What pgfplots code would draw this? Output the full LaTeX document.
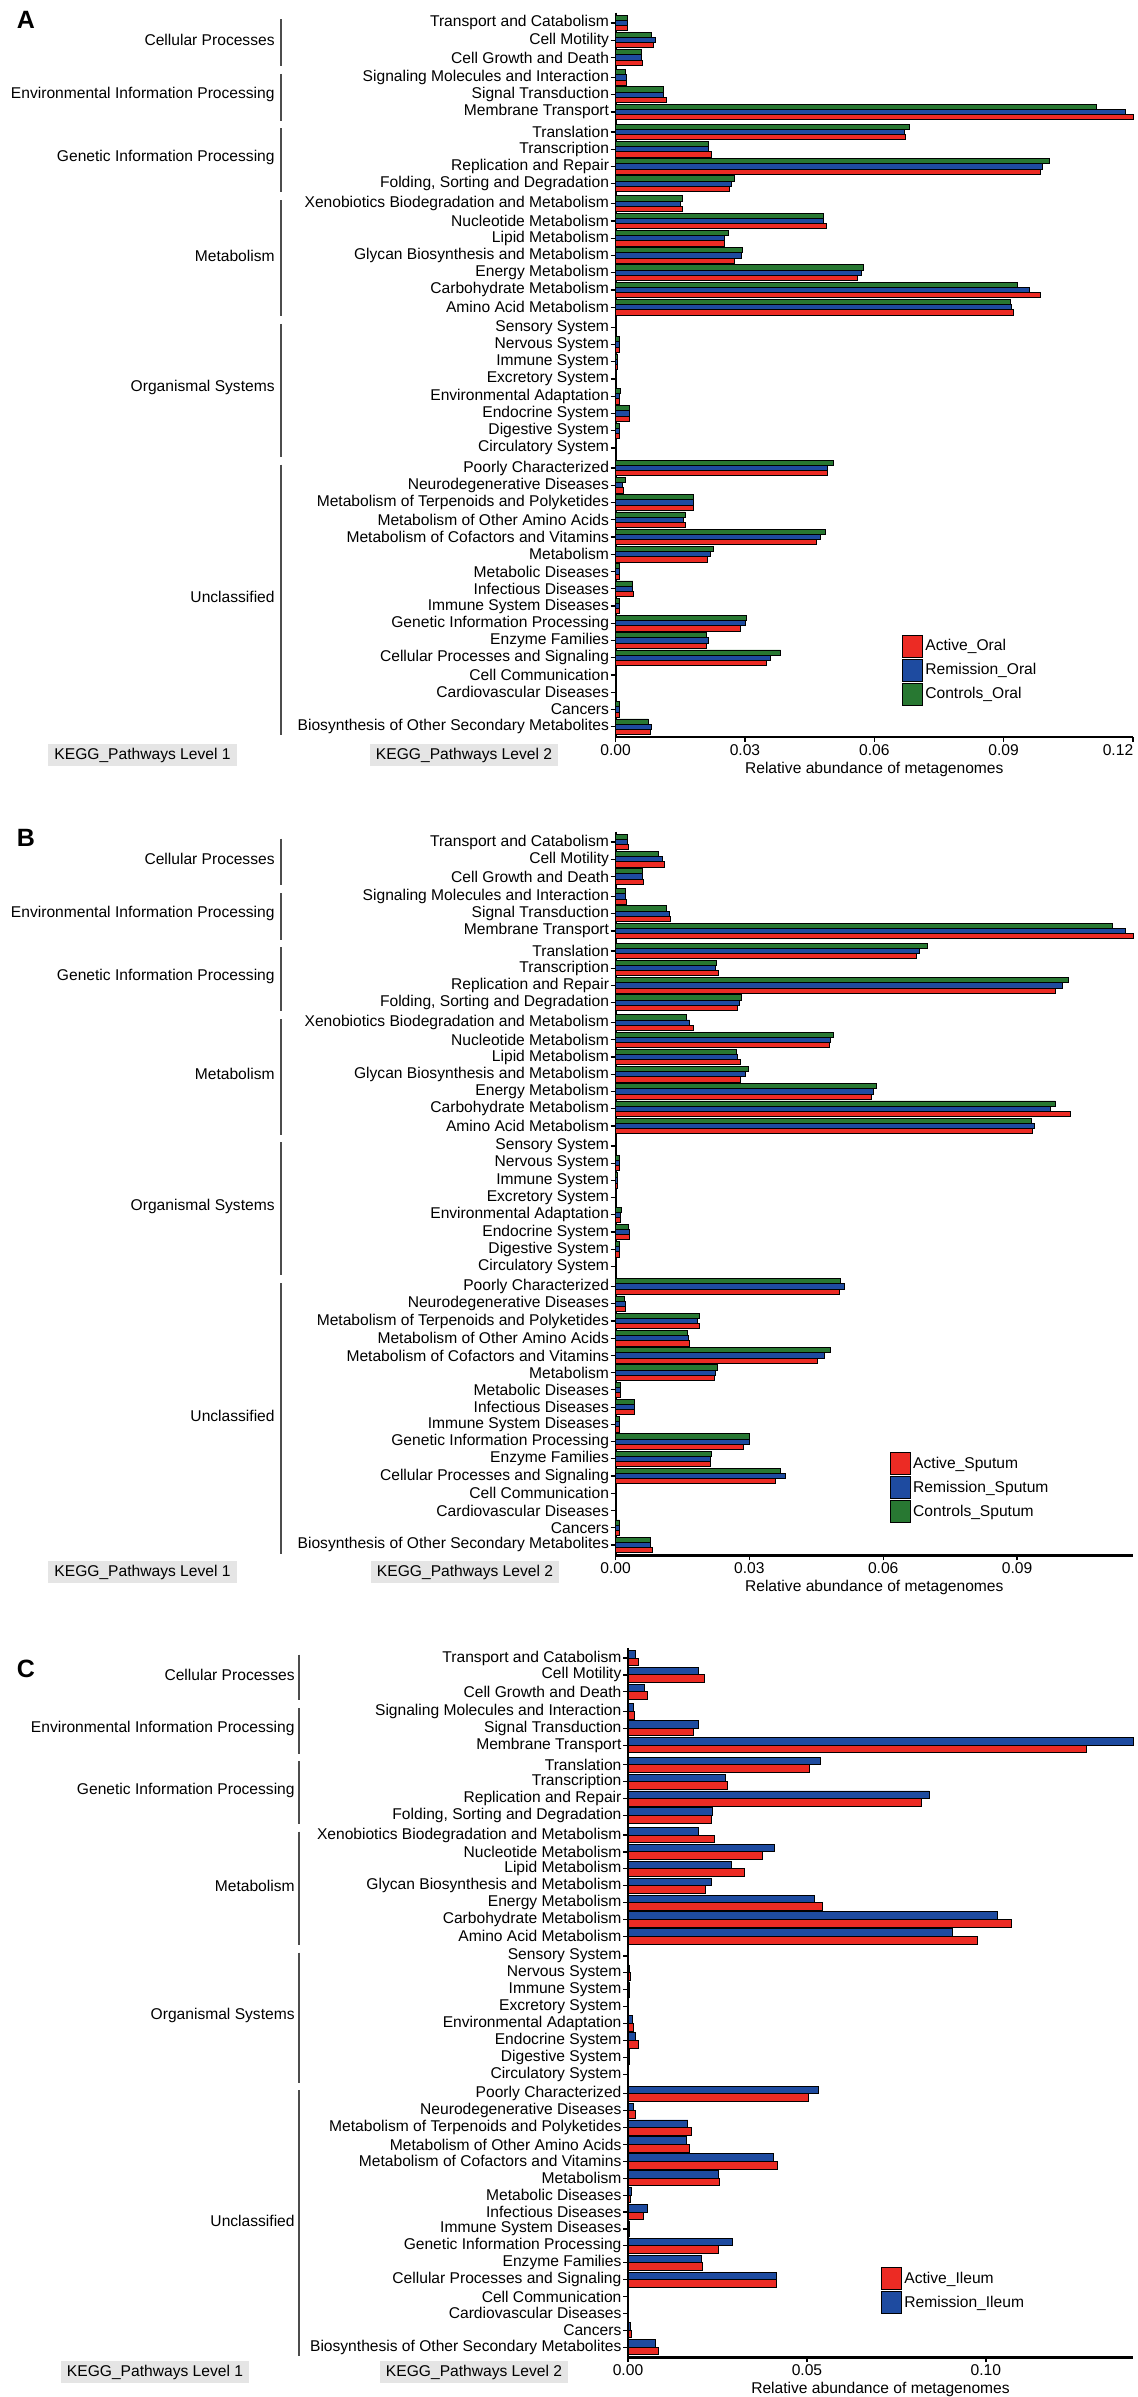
\documentclass[border=0pt]{standalone}
\usepackage{fontspec}
\setmainfont{Liberation Sans}
\usepackage{pgfplots}
\usepackage{pgfplotstable}
\pgfplotsset{compat=1.18}
\definecolor{cAct}{RGB}{236,43,36}
\definecolor{cRem}{RGB}{30,75,160}
\definecolor{cCon}{RGB}{40,120,50}
\newcommand\lab{\fontsize{7.8}{9}\selectfont}

% panel A (Oral)
\pgfplotstableread{
y act rem con
0 0.0028 0.0028 0.0028
1 0.0087 0.0092 0.0084
2 0.0062 0.0060 0.0060
3.16 0.0026 0.0026 0.0022
4.16 0.0117 0.0110 0.0110
5.16 0.1200 0.1183 0.1115
6.32 0.0672 0.0671 0.0682
7.32 0.0222 0.0215 0.0216
8.32 0.0985 0.0990 0.1007
9.32 0.0265 0.0269 0.0276
10.48 0.0154 0.0151 0.0156
11.48 0.0489 0.0482 0.0481
12.48 0.0253 0.0252 0.0262
13.48 0.0276 0.0292 0.0294
14.48 0.0562 0.0571 0.0575
15.48 0.0985 0.0960 0.0931
16.48 0.0922 0.0919 0.0916
17.64 0.0001 0.0001 0.0001
18.64 0.0009 0.0009 0.0009
19.64 0.0005 0.0005 0.0005
20.64 0.0001 0.0001 0.0001
21.64 0.0010 0.0010 0.0011
22.64 0.0033 0.0033 0.0033
23.64 0.0008 0.0008 0.0008
24.64 0.0002 0.0002 0.0002
25.8 0.0492 0.0492 0.0506
26.8 0.0018 0.0017 0.0022
27.8 0.0180 0.0180 0.0181
28.8 0.0163 0.0158 0.0161
29.8 0.0466 0.0476 0.0487
30.8 0.0213 0.0220 0.0228
31.8 0.0010 0.0010 0.0010
32.8 0.0042 0.0040 0.0040
33.8 0.0008 0.0008 0.0008
34.8 0.0290 0.0302 0.0303
35.8 0.0211 0.0215 0.0210
36.8 0.0351 0.0358 0.0383
37.8 0.0000 0.0000 0.0000
38.8 0.0000 0.0000 0.0000
39.8 0.0009 0.0009 0.0009
40.8 0.0080 0.0082 0.0076
}\tA

% panel B (Sputum)
\pgfplotstableread{
y act rem con
0 0.0029 0.0027 0.0027
1 0.0109 0.0104 0.0095
2 0.0062 0.0061 0.0060
3.16 0.0024 0.0022 0.0022
4.16 0.0124 0.0121 0.0115
5.16 0.1160 0.1142 0.1115
6.32 0.0675 0.0681 0.0699
7.32 0.0231 0.0224 0.0225
8.32 0.0987 0.1001 0.1016
9.32 0.0273 0.0277 0.0283
10.48 0.0175 0.0166 0.0159
11.48 0.0479 0.0481 0.0488
12.48 0.0279 0.0273 0.0271
13.48 0.0279 0.0290 0.0297
14.48 0.0573 0.0578 0.0584
15.48 0.1020 0.0975 0.0986
16.48 0.0935 0.0940 0.0933
17.64 0.0001 0.0001 0.0001
18.64 0.0008 0.0008 0.0008
19.64 0.0005 0.0005 0.0005
20.64 0.0001 0.0001 0.0001
21.64 0.0011 0.0010 0.0013
22.64 0.0030 0.0030 0.0028
23.64 0.0008 0.0008 0.0008
24.64 0.0002 0.0002 0.0002
25.8 0.0502 0.0514 0.0505
26.8 0.0021 0.0023 0.0020
27.8 0.0187 0.0183 0.0187
28.8 0.0166 0.0164 0.0160
29.8 0.0452 0.0468 0.0481
30.8 0.0221 0.0224 0.0228
31.8 0.0010 0.0010 0.0010
32.8 0.0043 0.0043 0.0043
33.8 0.0008 0.0008 0.0008
34.8 0.0287 0.0299 0.0300
35.8 0.0213 0.0213 0.0215
36.8 0.0359 0.0381 0.0369
37.8 0.0000 0.0000 0.0000
38.8 0.0000 0.0000 0.0000
39.8 0.0009 0.0009 0.0009
40.8 0.0082 0.0079 0.0079
}\tB

% panel C (Ileum)
\pgfplotstableread{
y act rem
0 0.0028 0.0022
1 0.0214 0.0198
2 0.0054 0.0047
3.16 0.0019 0.0016
4.16 0.0183 0.0197
5.16 0.1282 0.1411
6.32 0.0506 0.0539
7.32 0.0277 0.0271
8.32 0.0821 0.0841
9.32 0.0233 0.0237
10.48 0.0242 0.0198
11.48 0.0377 0.0410
12.48 0.0324 0.0288
13.48 0.0217 0.0233
14.48 0.0544 0.0522
15.48 0.1071 0.1031
16.48 0.0977 0.0906
17.64 0.0000 0.0000
18.64 0.0008 0.0005
19.64 0.0005 0.0005
20.64 0.0001 0.0001
21.64 0.0014 0.0012
22.64 0.0030 0.0022
23.64 0.0003 0.0003
24.64 0.0001 0.0001
25.8 0.0505 0.0532
26.8 0.0020 0.0016
27.8 0.0178 0.0167
28.8 0.0171 0.0163
29.8 0.0418 0.0407
30.8 0.0255 0.0254
31.8 0.0008 0.0010
32.8 0.0043 0.0053
33.8 0.0004 0.0004
34.8 0.0254 0.0293
35.8 0.0208 0.0205
36.8 0.0414 0.0414
37.8 0.0000 0.0000
38.8 0.0000 0.0000
39.8 0.0010 0.0008
40.8 0.0085 0.0076
}\tC

\pgfplotsset{
 keggticks/.style={
  ytick={0,1,2,3.16,4.16,5.16,6.32,7.32,8.32,9.32,10.48,11.48,12.48,13.48,14.48,15.48,16.48,17.64,18.64,19.64,20.64,21.64,22.64,23.64,24.64,25.8,26.8,27.8,28.8,29.8,30.8,31.8,32.8,33.8,34.8,35.8,36.8,37.8,38.8,39.8,40.8},
  yticklabels={Transport and Catabolism, Cell Motility, Cell Growth and Death, Signaling Molecules and Interaction, Signal Transduction, Membrane Transport, Translation, Transcription, Replication and Repair, {Folding, Sorting and Degradation}, Xenobiotics Biodegradation and Metabolism, Nucleotide Metabolism, Lipid Metabolism, Glycan Biosynthesis and Metabolism, Energy Metabolism, Carbohydrate Metabolism, Amino Acid Metabolism, Sensory System, Nervous System, Immune System, Excretory System, Environmental Adaptation, Endocrine System, Digestive System, Circulatory System, Poorly Characterized, Neurodegenerative Diseases, Metabolism of Terpenoids and Polyketides, Metabolism of Other Amino Acids, Metabolism of Cofactors and Vitamins, Metabolism, Metabolic Diseases, Infectious Diseases, Immune System Diseases, Genetic Information Processing, Enzyme Families, Cellular Processes and Signaling, Cell Communication, Cardiovascular Diseases, Cancers, Biosynthesis of Other Secondary Metabolites}
 },
 kegg/.style={
  xbar, scale only axis, y dir=reverse, ymin=-0.6, ymax=41.4, xmin=0,
  axis x line*=bottom, axis y line*=left,
  keggticks,
  x axis line style={line width=1.3pt}, y axis line style={line width=1pt},
  tick align=outside, major tick length=2.5pt, tick style={black, line width=0.6pt},
  yticklabel style={font=\lab, inner sep=0.6pt},
  xticklabel style={font=\lab, inner sep=1pt, /pgf/number format/.cd, fixed, fixed zerofill, precision=2, assume math mode=true},
  scaled x ticks=false,
  xlabel={Relative abundance of metagenomes}, xlabel style={font=\lab, inner sep=2pt},
  clip=false,
  legend style={draw=none, fill=none, font=\lab, inner sep=0pt, row sep=0.5pt, nodes={inner sep=1pt}, cells={anchor=west}},
  reverse legend,
  legend image code/.code={\draw[##1, draw=black, line width=0.5pt] (0pt,-5.5pt) rectangle (10pt,5.5pt);},
 }
}

\newcommand\grp[4]{%
 \draw[line width=0.8pt, black!70] ([xshift=\gls]axis cs:0,#2) -- ([xshift=\gls]axis cs:0,#3);
 \node[anchor=east, font=\lab, inner sep=0pt] at ([xshift=\gts]axis cs:0,#4) {#1};}
\newcommand\groups{%
 \grp{Cellular Processes}{-0.2}{2.5}{1}
 \grp{Environmental Information Processing}{2.96}{5.66}{4.16}
 \grp{Genetic Information Processing}{6.12}{9.82}{7.82}
 \grp{Metabolism}{10.28}{16.98}{13.48}
 \grp{Organismal Systems}{17.44}{25.14}{21.14}
 \grp{Unclassified}{25.6}{41.3}{33.3}}

\begin{document}
\begin{tikzpicture}
\useasboundingbox (0,0) rectangle (569pt,1198.5pt);

% ---------- A ----------
\def\gls{-167.3pt}\def\gts{-170.3pt}
\begin{axis}[kegg, at={(307.8pt,1192.2pt)}, anchor=north west,
  width=258.7pt, height=362.25pt, xmax=0.12, xtick={0,0.03,0.06,0.09,0.12},
  xticklabels={0.00,0.03,0.06,0.09,{\hspace*{-15pt}0.12}},
  legend style={at={(0.5535,0.141)}, anchor=north west}]
\addplot[fill=cCon, draw=black, line width=0.45pt, bar width=0.3, bar shift=-0.3] table[x=con,y=y]{\tA};
\addplot[fill=cRem, draw=black, line width=0.45pt, bar width=0.3, bar shift=0] table[x=rem,y=y]{\tA};
\addplot[fill=cAct, draw=black, line width=0.45pt, bar width=0.3, bar shift=0.3] table[x=act,y=y]{\tA};
\legend{Controls\_Oral, Remission\_Oral, Active\_Oral}
\groups
\end{axis}

% ---------- B ----------
\begin{axis}[kegg, at={(307.8pt,782.65pt)}, anchor=north west,
  width=258.7pt, height=361.8pt, xmax=0.116, xtick={0,0.03,0.06,0.09},
  legend style={at={(0.530,0.1428)}, anchor=north west}]
\addplot[fill=cCon, draw=black, line width=0.45pt, bar width=0.3, bar shift=-0.3] table[x=con,y=y]{\tB};
\addplot[fill=cRem, draw=black, line width=0.45pt, bar width=0.3, bar shift=0] table[x=rem,y=y]{\tB};
\addplot[fill=cAct, draw=black, line width=0.45pt, bar width=0.3, bar shift=0.3] table[x=act,y=y]{\tB};
\legend{Controls\_Sputum, Remission\_Sputum, Active\_Sputum}
\groups
\end{axis}

% ---------- C ----------
\def\gls{-164.5pt}\def\gts{-166.5pt}
\begin{axis}[kegg, at={(314pt,374.55pt)}, anchor=north west,
  width=252.5pt, height=354.7pt, xmax=0.1411, xtick={0,0.05,0.10},
  legend style={at={(0.501,0.1273)}, anchor=north west}]
\addplot[fill=cRem, draw=black, line width=0.45pt, bar width=0.45, bar shift=-0.225] table[x=rem,y=y]{\tC};
\addplot[fill=cAct, draw=black, line width=0.45pt, bar width=0.45, bar shift=0.225] table[x=act,y=y]{\tC};
\legend{Remission\_Ileum, Active\_Ileum}
\groups
\end{axis}

% ---------- panel letters and KEGG level boxes ----------
\node[font=\fontsize{12.5}{14}\selectfont\bfseries] at (13pt,1188.5pt) {A};
\node[font=\fontsize{12.5}{14}\selectfont\bfseries] at (13pt,779.5pt) {B};
\node[font=\fontsize{12.5}{14}\selectfont\bfseries] at (13pt,364pt) {C};

\tikzset{kbox/.style={fill=black!10, inner xsep=3pt, inner ysep=1.8pt, font=\lab}}
\node[kbox] at (71.25pt,821pt) {KEGG\_Pathways Level 1};
\node[kbox] at (232pt,821pt) {KEGG\_Pathways Level 2};
\node[kbox] at (71.25pt,412.5pt) {KEGG\_Pathways Level 1};
\node[kbox] at (232.5pt,412.5pt) {KEGG\_Pathways Level 2};
\node[kbox] at (77.5pt,12.5pt) {KEGG\_Pathways Level 1};
\node[kbox] at (237pt,12.5pt) {KEGG\_Pathways Level 2};
\end{tikzpicture}
\end{document}
